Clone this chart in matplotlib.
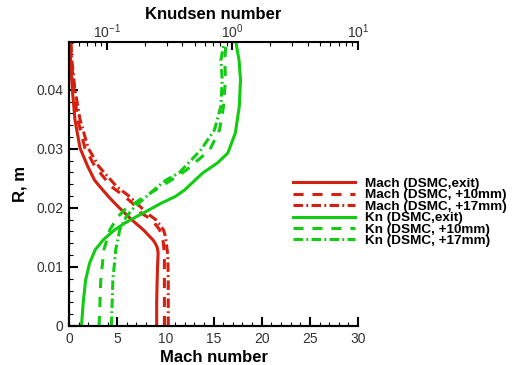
import numpy as np
import matplotlib
matplotlib.use("Agg")
import matplotlib.pyplot as plt
from matplotlib.ticker import MultipleLocator, LogLocator, NullFormatter, FuncFormatter

plt.rcParams['font.family'] = ['Liberation Sans', 'DejaVu Sans']

# Mach number profiles (bottom axis) vs radius R (m)
r_mach_exit = [0.0, 0.004, 0.0078, 0.0105, 0.0124, 0.0133, 0.014, 0.0146, 0.0151,
               0.0163, 0.018, 0.0191, 0.0202, 0.0219, 0.0236, 0.0247, 0.027,
               0.0301, 0.0349, 0.040, 0.045, 0.0481]
mach_exit = [9.1, 9.1, 9.15, 9.2, 9.25, 9.15, 8.95, 8.7, 8.4,
             7.7, 6.5, 5.8, 5.1, 4.1, 3.2, 2.65, 1.95,
             1.15, 0.62, 0.35, 0.17, 0.1]

r_mach_off = [0.0, 0.008, 0.012, 0.014, 0.0152, 0.0163, 0.018, 0.0191, 0.0202,
              0.0219, 0.0236, 0.0247, 0.027, 0.0301, 0.035, 0.040, 0.045, 0.0481]
mach_10 = [9.9, 9.9, 9.9, 9.8, 9.65, 9.4, 8.6, 7.5, 7.0,
           5.8, 4.4, 3.85, 2.7, 1.66, 0.9, 0.52, 0.25, 0.15]
mach_17 = [10.3, 10.3, 10.25, 10.1, 10.0, 9.8, 9.0, 8.1, 7.4,
           6.3, 4.95, 4.35, 3.1, 2.0, 1.14, 0.62, 0.3, 0.2]

# Knudsen number profiles (top log axis) vs radius R (m)
r_kn_exit = [0.0, 0.0039, 0.0078, 0.0106, 0.0129, 0.0146, 0.0163, 0.0174, 0.0185,
             0.0197, 0.0208, 0.0219, 0.023, 0.0259, 0.0276, 0.0293, 0.0327,
             0.0372, 0.0417, 0.045, 0.0479]
kn_exit = [0.063, 0.065, 0.068, 0.073, 0.081, 0.094, 0.116, 0.139, 0.172,
           0.219, 0.272, 0.35, 0.415, 0.58, 0.76, 0.92, 1.056,
           1.135, 1.16, 1.13, 1.07]

r_kn_10 = [0.0, 0.0078, 0.0129, 0.0163, 0.0185, 0.0197, 0.0208, 0.0219, 0.0236,
           0.0247, 0.0264, 0.0298, 0.0332, 0.0372, 0.0417, 0.045, 0.0481]
kn_10 = [0.087, 0.0897, 0.095, 0.106, 0.123, 0.139, 0.167, 0.2, 0.27,
         0.326, 0.43, 0.66, 0.79, 0.85, 0.88, 0.87, 0.89]

r_kn_17 = [0.0, 0.0078, 0.0129, 0.0163, 0.0185, 0.0202, 0.0219, 0.0236, 0.0247,
           0.026, 0.0298, 0.0332, 0.0372, 0.0417, 0.045, 0.0481]
kn_17 = [0.109, 0.112, 0.118, 0.127, 0.143, 0.167, 0.206, 0.255, 0.297,
         0.38, 0.56, 0.72, 0.81, 0.83, 0.81, 0.86]

labels = ["Mach (DSMC,exit)", "Mach (DSMC, +10mm)", "Mach (DSMC, +17mm)",
          "Kn (DSMC,exit)", "Kn (DSMC, +10mm)", "Kn (DSMC, +17mm)"]

red = "#d42010"
green = "#11cc11"
lw = 2.2
dash = (0, (3.3, 2.9))
dashdot = (0, (3.1, 1.1, 0.6, 1.1))

fig = plt.figure(figsize=(5.13, 3.65), dpi=100)
ax = fig.add_axes([0.1345, 0.107, 0.5635, 0.778])
ax2 = ax.twiny()

h1, = ax.plot(mach_exit, r_mach_exit, color=red, lw=lw, ls="-")
h2, = ax.plot(mach_10, r_mach_off, color=red, lw=lw, ls=dash)
h3, = ax.plot(mach_17, r_mach_off, color=red, lw=lw, ls=dashdot)
h4, = ax2.plot(kn_exit, r_kn_exit, color=green, lw=lw, ls="-")
h5, = ax2.plot(kn_10, r_kn_10, color=green, lw=lw, ls=dash)
h6, = ax2.plot(kn_17, r_kn_17, color=green, lw=lw, ls=dashdot)

ax.set_xlim(0, 30)
ax.set_ylim(0, 0.0481)
ax2.set_xscale("log")
ax2.set_xlim(10 ** -1.3, 10)

ax.xaxis.set_major_locator(MultipleLocator(5))
ax.xaxis.set_minor_locator(MultipleLocator(1))
ax.yaxis.set_major_locator(MultipleLocator(0.01))
ax.yaxis.set_minor_locator(MultipleLocator(0.002))
ax.yaxis.set_major_formatter(FuncFormatter(
    lambda v, p: "0" if abs(v) < 1e-9 else "%.2f" % v))

ax2.xaxis.set_major_locator(LogLocator(base=10, numticks=10))
ax2.xaxis.set_minor_locator(LogLocator(base=10, subs=np.arange(2, 10), numticks=20))
ax2.xaxis.set_minor_formatter(NullFormatter())

for a in (ax, ax2):
    a.spines["right"].set_visible(False)
    for s in a.spines.values():
        s.set_linewidth(1.5)
ax.spines["top"].set_visible(False)

tick_col = "#333333"
ax.tick_params(which="major", direction="in", length=6.5, width=1.5, labelsize=10,
               labelcolor=tick_col, pad=4)
ax.tick_params(which="minor", direction="in", length=3, width=0.8)
ax2.tick_params(which="major", direction="in", length=6, width=1.5, labelsize=10,
                labelcolor=tick_col, pad=1)
ax2.tick_params(which="minor", direction="in", length=3, width=0.8)

ax.set_xlabel("Mach number", fontsize=12, fontweight="bold", labelpad=3)
ax.set_ylabel("R, m", fontsize=12, fontweight="bold", labelpad=6)
ax2.set_xlabel("Knudsen number", fontsize=12, fontweight="bold", labelpad=2)

fig.legend([h1, h2, h3, h4, h5, h6], labels, loc="upper left",
           bbox_to_anchor=(0.552, 0.54), frameon=False,
           prop={"size": 9.7, "weight": "bold"},
           handlelength=4.6, handletextpad=0.8, labelspacing=-0.07,
           borderpad=0.2)

fig.savefig("out.png", dpi=100)
